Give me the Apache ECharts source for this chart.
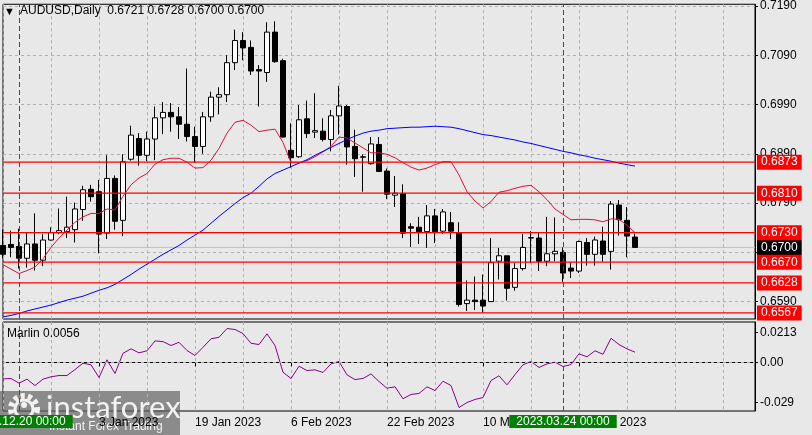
<!DOCTYPE html>
<html>
<head>
<meta charset="utf-8">
<script src="https://cdn.jsdelivr.net/npm/echarts@6/dist/echarts.min.js"></script>
<style>
  html, body { margin: 0; padding: 0; background: #e8e8e8; }
  #chart { width: 812px; height: 435px; }
</style>
</head>
<body>
<div id="chart"></div>
<script>
  // daily bars, AUDUSD (last 15 dates are empty space on the right)
  const dates = [
    '2022.12.16', '2022.12.19', '2022.12.20', '2022.12.21', '2022.12.22', '2022.12.23', '2022.12.26', '2022.12.27', '2022.12.28', '2022.12.29',
    '2022.12.30', '2023.01.02', '2023.01.03', '2023.01.04', '2023.01.05', '2023.01.06', '2023.01.09', '2023.01.10', '2023.01.11', '2023.01.12',
    '2023.01.13', '2023.01.16', '2023.01.17', '2023.01.18', '2023.01.19', '2023.01.20', '2023.01.23', '2023.01.24', '2023.01.25', '2023.01.26',
    '2023.01.27', '2023.01.30', '2023.01.31', '2023.02.01', '2023.02.02', '2023.02.03', '2023.02.06', '2023.02.07', '2023.02.08', '2023.02.09',
    '2023.02.10', '2023.02.13', '2023.02.14', '2023.02.15', '2023.02.16', '2023.02.17', '2023.02.20', '2023.02.21', '2023.02.22', '2023.02.23',
    '2023.02.24', '2023.02.27', '2023.02.28', '2023.03.01', '2023.03.02', '2023.03.03', '2023.03.06', '2023.03.07', '2023.03.08', '2023.03.09',
    '2023.03.10', '2023.03.13', '2023.03.14', '2023.03.15', '2023.03.16', '2023.03.17', '2023.03.20', '2023.03.21', '2023.03.22', '2023.03.23',
    '2023.03.24', '2023.03.27', '2023.03.28', '2023.03.29', '2023.03.30', '2023.03.31', '2023.04.03', '2023.04.04', '2023.04.05', '2023.04.06',
    '2023.04.07', '2023.04.10', '2023.04.11', '2023.04.12', '2023.04.13', '2023.04.14', '2023.04.17', '2023.04.18', '2023.04.19', '2023.04.20',
    '2023.04.21', '2023.04.24', '2023.04.25', '2023.04.26', '2023.04.27'
  ]

  const open = [
    0.6704, 0.6706, 0.6702, 0.6678, 0.6707, 0.6674, 0.6715, 0.6730, 0.6732, 0.6736,
    0.6777, 0.6818, 0.6813, 0.6729, 0.6840, 0.6755, 0.6879, 0.6921, 0.6887, 0.6920,
    0.6963, 0.6974, 0.6965, 0.6950, 0.6925, 0.6905, 0.6965, 0.7005, 0.7010, 0.7075,
    0.7120, 0.7106, 0.7061, 0.7055, 0.7137, 0.7079, 0.6897, 0.6884, 0.6961, 0.6934,
    0.6936, 0.6919, 0.6967, 0.6986, 0.6905, 0.6883, 0.6870, 0.6909, 0.6855, 0.6806,
    0.6809, 0.6742, 0.6741, 0.6732, 0.6764, 0.6733, 0.6750, 0.6730, 0.6586, 0.6593,
    0.6593, 0.6590, 0.6672, 0.6683, 0.6619, 0.6657, 0.6719, 0.6719, 0.6672, 0.6687,
    0.6690, 0.6658, 0.6652, 0.6710, 0.6686, 0.6713, 0.6692, 0.6786, 0.6755, 0.6721
  ]
  const close = [
    0.6686, 0.6700, 0.6678, 0.6707, 0.6674, 0.6715, 0.6730, 0.6734, 0.6741, 0.6778,
    0.6817, 0.6803, 0.6727, 0.6840, 0.6753, 0.6874, 0.6928, 0.6887, 0.6920, 0.6963,
    0.6974, 0.6965, 0.6950, 0.6925, 0.6905, 0.6965, 0.7005, 0.7010, 0.7075, 0.7120,
    0.7105, 0.7058, 0.7058, 0.7137, 0.7077, 0.6924, 0.6882, 0.6959, 0.6931, 0.6937,
    0.6919, 0.6967, 0.6987, 0.6904, 0.6880, 0.6884, 0.6910, 0.6854, 0.6808, 0.6810,
    0.6729, 0.6739, 0.6732, 0.6764, 0.6732, 0.6772, 0.6733, 0.6584, 0.6593, 0.6590,
    0.6581, 0.6669, 0.6683, 0.6617, 0.6657, 0.6700, 0.6720, 0.6672, 0.6687, 0.6692,
    0.6648, 0.6652, 0.6712, 0.6686, 0.6715, 0.6686, 0.6788, 0.6756, 0.6723, 0.6700
  ]
  const low = [
    0.6678, 0.6680, 0.6657, 0.6659, 0.6653, 0.6662, 0.6714, 0.6727, 0.6719, 0.6710,
    0.6754, 0.6793, 0.6688, 0.6717, 0.6736, 0.6723, 0.6876, 0.6866, 0.6875, 0.6877,
    0.6930, 0.6935, 0.6920, 0.6915, 0.6872, 0.6890, 0.6955, 0.6970, 0.6995, 0.7060,
    0.7080, 0.7050, 0.6986, 0.7036, 0.7075, 0.6923, 0.6862, 0.6882, 0.6922, 0.6922,
    0.6915, 0.6895, 0.6929, 0.6868, 0.6843, 0.6813, 0.6868, 0.6854, 0.6798, 0.6782,
    0.6719, 0.6701, 0.6707, 0.6699, 0.6709, 0.6727, 0.6717, 0.6580, 0.6571, 0.6573,
    0.6568, 0.6590, 0.6635, 0.6592, 0.6612, 0.6653, 0.6668, 0.6652, 0.6662, 0.6672,
    0.6630, 0.6638, 0.6648, 0.6663, 0.6663, 0.6671, 0.6655, 0.6724, 0.6680, 0.6700
  ]
  const high = [
    0.6736, 0.6734, 0.6738, 0.6731, 0.6769, 0.6727, 0.6741, 0.6779, 0.6803, 0.6791,
    0.6825, 0.6827, 0.6837, 0.6887, 0.6846, 0.6889, 0.6947, 0.6932, 0.6935, 0.6986,
    0.6995, 0.6993, 0.6985, 0.7063, 0.6945, 0.6975, 0.7016, 0.7025, 0.7090, 0.7142,
    0.7137, 0.7120, 0.7070, 0.7157, 0.7159, 0.7083, 0.6952, 0.6989, 0.6998, 0.7013,
    0.6962, 0.6979, 0.7028, 0.6989, 0.6939, 0.6889, 0.6924, 0.6924, 0.6860, 0.6845,
    0.6828, 0.6749, 0.6762, 0.6786, 0.6778, 0.6778, 0.6772, 0.6751, 0.6633, 0.6641,
    0.6645, 0.6719, 0.6699, 0.6683, 0.6669, 0.6727, 0.6733, 0.6730, 0.6762, 0.6761,
    0.6700, 0.6670, 0.6714, 0.6719, 0.6722, 0.6742, 0.6794, 0.6796, 0.6782, 0.6728
  ]

  // fast (red) and slow (blue) moving averages
  const maFast = [
    0.6665, 0.6656, 0.6647, 0.6653, 0.6660, 0.6677, 0.6700, 0.6719, 0.6735, 0.6751,
    0.6762, 0.6769, 0.6769, 0.6778, 0.6776, 0.6804, 0.6827, 0.6841, 0.6850, 0.6869,
    0.6878, 0.6881, 0.6881, 0.6873, 0.6861, 0.6862, 0.6877, 0.6901, 0.6932, 0.6954,
    0.6958, 0.6948, 0.6935, 0.6938, 0.6940, 0.6913, 0.6872, 0.6872, 0.6876, 0.6884,
    0.6894, 0.6905, 0.6924, 0.6922, 0.6912, 0.6902, 0.6892, 0.6892, 0.6889, 0.6882,
    0.6872, 0.6863, 0.6857, 0.6861, 0.6868, 0.6874, 0.6874, 0.6847, 0.6813, 0.6794,
    0.6780, 0.6793, 0.6812, 0.6815, 0.6820, 0.6824, 0.6826, 0.6813, 0.6797, 0.6778,
    0.6767, 0.6756, 0.6757, 0.6757, 0.6756, 0.6752, 0.6758, 0.6757, 0.6745, 0.6730
  ]
  const maSlow = [
    0.6559, 0.6562, 0.6566, 0.6571, 0.6575, 0.6579, 0.6583, 0.6588, 0.6593, 0.6597,
    0.6601, 0.6607, 0.6613, 0.6618, 0.6625, 0.6635, 0.6645, 0.6656, 0.6666, 0.6676,
    0.6686, 0.6695, 0.6704, 0.6715, 0.6725, 0.6735, 0.6749, 0.6763, 0.6776, 0.6789,
    0.6801, 0.6810, 0.6824, 0.6839, 0.6850, 0.6857, 0.6864, 0.6871, 0.6878, 0.6887,
    0.6895, 0.6903, 0.6911, 0.6919, 0.6926, 0.6932, 0.6936, 0.6938, 0.6941, 0.6942,
    0.6943, 0.6944, 0.6944, 0.6945, 0.6946, 0.6945, 0.6944, 0.6941, 0.6937, 0.6933,
    0.6929, 0.6927, 0.6924, 0.6921, 0.6918, 0.6914, 0.6911, 0.6907, 0.6903, 0.6899,
    0.6895, 0.6892, 0.6888, 0.6885, 0.6881, 0.6878, 0.6875, 0.6871, 0.6868, 0.6865
  ]

  const marlin = [
    -0.0119, -0.0116, -0.0150, -0.0121, -0.0167, -0.0121, -0.0104, -0.0095, -0.0095, -0.0052,
    -0.0006, -0.0018, -0.0109, 0.0018, -0.0080, 0.0065, 0.0097, 0.0068, 0.0083, 0.0154,
    0.0149, 0.0121, 0.0144, 0.0085, 0.0049, 0.0108, 0.0169, 0.0180, 0.0243, 0.0236,
    0.0207, 0.0137, 0.0128, 0.0205, 0.0121, -0.0071, -0.0116, -0.0028, -0.0059, -0.0054,
    -0.0073, -0.0011, 0.0006, -0.0090, -0.0124, -0.0116, -0.0083, -0.0138, -0.0186, -0.0176,
    -0.0262, -0.0231, -0.0224, -0.0176, -0.0203, -0.0136, -0.0167, -0.0325, -0.0289, -0.0267,
    -0.0253, -0.0131, -0.0097, -0.0162, -0.0088, -0.0018, 0.0006, -0.0037, -0.0011, 0.0001,
    -0.0030, -0.0016, 0.0061, 0.0040, 0.0083, 0.0058, 0.0173, 0.0128, 0.0097, 0.0073
  ]

  const levels = [0.6873, 0.6810, 0.6730, 0.6670, 0.6628, 0.6567]
  const lastPrice = 0.6700
  const markedDates = ['2022.12.20', '2023.03.24']
  const priceTicks = [0.7190, 0.7090, 0.6990, 0.6890, 0.6790, 0.6690, 0.6590]
  const marlinTicks = [0.0213, 0, -0.029]
  const marlinTickLabels = ['0.0213', '0.00', '-0.029']
  const months = ['Jan', 'Feb', 'Mar', 'Apr', 'May', 'Jun', 'Jul', 'Aug', 'Sep', 'Oct', 'Nov', 'Dec']

  const last = open.length - 1
  const candles = open.map((o, i) => [o, close[i], low[i], high[i]])
  const showLabel = (i) => i > 0 && i <= last && i % 12 === 0
  const gridDash = { color: '#b0b0b0', type: [3, 3], width: 1 }
  const font = 'Liberation Sans'

  // horizontal price line across the whole pane with a boxed label on the price scale
  function priceLine (value, lineColor, boxColor, width, z) {
    return {
      type: 'line',
      xAxisIndex: 0, yAxisIndex: 0,
      data: dates.map(() => value),
      symbol: 'none',
      silent: true,
      z: z,
      lineStyle: { color: lineColor, width: width },
      endLabel: {
        show: true, distance: 2, formatter: value.toFixed(4),
        color: '#fff', backgroundColor: boxColor, padding: [2, 4, 1, 4], fontSize: 12, fontFamily: font
      }
    }
  }

  const chart = echarts.init(document.getElementById('chart'))
  chart.setOption({
    backgroundColor: '#e8e8e8',
    animation: false,
    textStyle: { fontFamily: font },
    title: [
      {
        text: 'AUDUSD,Daily  ' + [open[last], high[last], low[last], close[last]].map(v => v.toFixed(4)).join(' '),
        left: 20, top: 5, padding: 0,
        textStyle: { fontSize: 12, fontWeight: 'normal', color: '#000', fontFamily: font }
      },
      {
        text: 'Marlin 0.0056',
        left: 7, top: 328, padding: 0,
        textStyle: { fontSize: 12, fontWeight: 'normal', color: '#000', fontFamily: font }
      }
    ],
    grid: [
      { left: 3, top: 2, width: 752, height: 317, show: true, borderColor: '#000', borderWidth: 1 },
      { left: 3, top: 322, width: 752, height: 89, show: true, borderColor: '#000', borderWidth: 1 }
    ],
    xAxis: [
      {
        type: 'category', gridIndex: 0, data: dates, boundaryGap: false,
        axisLine: { show: false }, axisTick: { show: false }, axisLabel: { show: false },
        splitLine: { show: true, interval: 5, lineStyle: gridDash }
      },
      {
        type: 'category', gridIndex: 1, data: dates, boundaryGap: false,
        axisLine: { show: true, lineStyle: { color: '#000' } },
        axisTick: { show: true, interval: showLabel, length: 4, lineStyle: { color: '#000' } },
        axisLabel: {
          interval: showLabel, align: 'left', margin: 6, color: '#000', fontSize: 12,
          formatter: (v) => {
            const p = v.split('.')
            return (+p[2]) + ' ' + months[p[1] - 1] + ' ' + p[0]
          }
        },
        splitLine: { show: true, interval: 5, lineStyle: gridDash }
      }
    ],
    yAxis: [
      {
        type: 'value', gridIndex: 0, position: 'right', min: 0.65547, max: 0.71935,
        axisLine: { show: true, lineStyle: { color: '#000' } },
        axisTick: { show: true, length: 3, customValues: priceTicks, lineStyle: { color: '#000' } },
        axisLabel: { customValues: priceTicks, formatter: (v) => v.toFixed(4), color: '#000', fontSize: 12, margin: 5 },
        splitLine: { show: true, lineStyle: gridDash }
      },
      {
        type: 'value', gridIndex: 1, position: 'right', min: -0.0350, max: 0.0290,
        axisLine: { show: true, lineStyle: { color: '#000' } },
        axisTick: { show: true, length: 3, customValues: marlinTicks, lineStyle: { color: '#000' } },
        axisLabel: {
          customValues: marlinTicks, color: '#000', fontSize: 12, margin: 5,
          formatter: (v) => marlinTickLabels[marlinTicks.indexOf(v)] || ''
        },
        splitLine: { show: false }
      }
    ],
    series: [
      priceLine(lastPrice, '#c0c0c0', '#000', 1, 1),
      {
        name: 'AUDUSD',
        type: 'candlestick',
        xAxisIndex: 0, yAxisIndex: 0,
        data: candles,
        barWidth: 5,
        silent: true,
        z: 2,
        itemStyle: { color: '#ffffff', color0: '#000000', borderColor: '#000000', borderColor0: '#000000', borderWidth: 1 },
        markLine: {
          silent: true,
          symbol: ['none', 'none'],
          label: { show: false },
          lineStyle: { color: '#008000', width: 1, type: [5, 3] },
          data: markedDates.map(d => ({ xAxis: d }))
        }
      },
      {
        name: 'MA fast',
        type: 'line',
        xAxisIndex: 0, yAxisIndex: 0,
        data: maFast,
        symbol: 'none',
        silent: true,
        z: 3,
        lineStyle: { color: '#e0103c', width: 1 }
      },
      {
        name: 'MA slow',
        type: 'line',
        xAxisIndex: 0, yAxisIndex: 0,
        data: maSlow,
        symbol: 'none',
        silent: true,
        z: 3,
        lineStyle: { color: '#0000ff', width: 1 }
      }
    ].concat(levels.map(v => priceLine(v, '#ff0000', '#ff0000', 1.3, 4))).concat([
      {
        name: 'Marlin',
        type: 'line',
        xAxisIndex: 1, yAxisIndex: 1,
        data: marlin,
        symbol: 'none',
        silent: true,
        lineStyle: { color: '#8b008b', width: 1 },
        markLine: {
          silent: true,
          symbol: ['none', 'none'],
          data: [{
            yAxis: 0,
            lineStyle: { color: '#b0b0b0', width: 1, type: [3, 3] },
            label: { show: false }
          }].concat(markedDates.map(d => ({
            xAxis: d,
            name: d + ' 00:00',
            lineStyle: { color: '#008000', width: 1, type: [5, 3] },
            label: { show: true, position: 'start', distance: 4, formatter: '{b}', color: '#fff', backgroundColor: '#008000', padding: [1, 7, 0, 7], fontSize: 12 }
          })))
        }
      }
    ]),
    graphic: [
      { type: 'text', left: 4, top: 6, style: { text: '\u25bc', fontSize: 11, fill: '#000' } },
      {
        type: 'group', left: 0, top: 391, z: 100,
        children: [
          { type: 'rect', shape: { x: 0, y: 0, width: 180, height: 44 }, style: { fill: 'rgba(100,100,100,0.7)' } },
          { type: 'circle', shape: { cx: 24, cy: 18, r: 13 }, style: { fill: 'none', stroke: '#f2f2f2', lineWidth: 6, lineDash: [4, 3.2] } },
          { type: 'circle', shape: { cx: 24, cy: 18, r: 9 }, style: { fill: 'none', stroke: '#f2f2f2', lineWidth: 3 } },
          { type: 'circle', shape: { cx: 24, cy: 14, r: 3 }, style: { fill: '#f2f2f2' } },
          { type: 'text', x: 46, y: 1, style: { text: 'instaforex', fontSize: 31, fontFamily: 'Lato', fill: '#f2f2f2' } },
          { type: 'text', x: 49, y: 30, style: { text: 'Instant Forex Trading', fontSize: 12, fontFamily: font, fill: '#f2f2f2' } }
        ]
      }
    ]
  })
</script>
</body>
</html>
